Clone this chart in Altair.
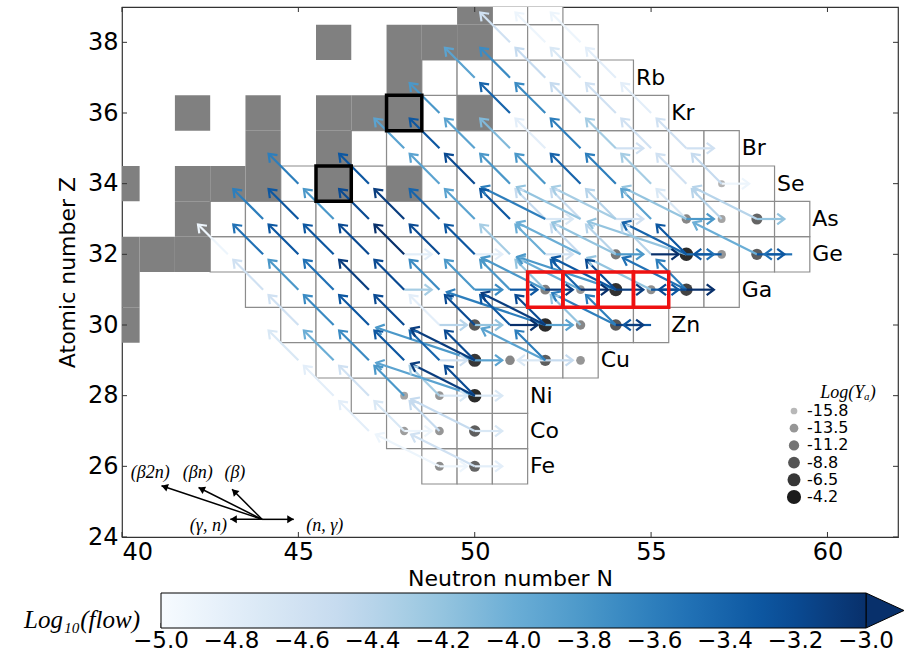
import math
import altair as alt
import pandas as pd

# ---------------- chart values ----------------
# network cells: for each Z the first and last N of the row
grid_Z    = [26, 27, 28, 29, 30, 31, 32, 33, 34, 35, 36, 37, 38, 39]
grid_Nmin = [49, 48, 47, 46, 45, 44, 43, 43, 45, 47, 49, 49, 51, 51]
grid_Nmax = [51, 51, 51, 53, 55, 57, 59, 59, 58, 57, 55, 54, 53, 52]

element_Z    = [26, 27, 28, 29, 30, 31, 32, 33, 34, 35, 36, 37]
element_name = ["Fe", "Co", "Ni", "Cu", "Zn", "Ga", "Ge", "As", "Se", "Br", "Kr", "Rb"]

# stable (grey) cells
stable_N = [50, 46, 48, 49, 50, 48, 42, 44, 46, 47, 48, 50, 44, 46, 40, 42, 43, 44, 46, 48, 42, 40, 41, 42, 40, 40]
stable_Z = [39, 38, 38, 38, 38, 37, 36, 36, 36, 36, 36, 36, 35, 35, 34, 34, 34, 34, 34, 34, 33, 32, 32, 32, 31, 30]

black_N = [46, 48]
black_Z = [34, 36]
red_N = [52, 53, 54, 55]
red_Z = [31, 31, 31, 31]

# abundances Log(Y_A)
yield_N    = [49, 50, 48, 49, 50, 48, 49, 50, 50, 51, 52, 53, 50, 52, 53, 54, 52, 53, 54, 55, 56, 54, 56, 57, 58, 56, 57, 58, 57]
yield_Z    = [26, 26, 27, 27, 27, 28, 28, 28, 29, 29, 29, 29, 30, 30, 30, 30, 31, 31, 31, 31, 31, 32, 32, 32, 32, 33, 33, 33, 34]
yield_logY = [-13.0, -10.0, -14.0, -13.5, -9.5, -14.5, -13.5, -5.5, -6.5, -12.5, -9.5, -13.5, -9.0, -5.5, -12.5, -9.0,
              -12.0, -13.5, -6.0, -13.0, -7.5, -11.5, -5.5, -13.5, -9.5, -12.5, -14.5, -10.0, -15.5]

# beta decays (N,Z) -> (N-1,Z+1): source cells and Log10(flow)
beta_N = [51, 52, 53,
          50, 51, 52, 53, 54,
          49, 51, 52, 53, 54, 55,
          48, 49, 50, 51, 52, 53, 54, 55, 56,
          45, 47, 49, 50, 51, 52, 53, 54, 55, 56, 57,
          44, 45, 46, 47, 48, 49, 50, 51, 52, 53, 54, 55, 56, 57,
          43, 44, 45, 46, 47, 48, 49, 50, 51, 52, 53, 54, 55, 56,
          44, 45, 46, 47, 48, 49, 50, 51, 52, 53, 54, 56,
          45, 46, 47, 48, 49, 50, 51, 52, 53, 54,
          45, 46, 47, 48, 49, 50, 52,
          46, 47, 48, 49, 50,
          47, 48, 49]
beta_Z = [38, 38, 38,
          37, 37, 37, 37, 37,
          36, 36, 36, 36, 36, 36,
          35, 35, 35, 35, 35, 35, 35, 35, 35,
          34, 34, 34, 34, 34, 34, 34, 34, 34, 34, 34,
          33, 33, 33, 33, 33, 33, 33, 33, 33, 33, 33, 33, 33, 33,
          32, 32, 32, 32, 32, 32, 32, 32, 32, 32, 32, 32, 32, 32,
          31, 31, 31, 31, 31, 31, 31, 31, 31, 31, 31, 31,
          30, 30, 30, 30, 30, 30, 30, 30, 30, 30,
          29, 29, 29, 29, 29, 29, 29,
          28, 28, 28, 28, 28,
          27, 27, 27]
beta_flow = [-4.6, -4.9, -4.9,
             -3.9, -3.7, -4.5, -4.7, -4.8,
             -3.8, -3.4, -3.7, -4.5, -4.6, -4.8,
             -3.9, -3.3, -3.9, -4.1, -4.8, -3.6, -4.3, -4.6, -4.6,
             -3.6, -3.3, -3.9, -3.2, -3.8, -3.8, -3.4, -3.6, -4.3, -4.6, -4.5,
             -3.6, -3.3, -3.8, -3.2, -3.1, -3.4, -3.9, -3.3, -4.5, -4.5, -4.4, -3.9, -4.7, -4.4,
             -4.9, -3.5, -3.3, -3.3, -3.2, -3.0, -3.2, -3.3, -4.3, -4.0, -4.5, -4.4, -4.4, -3.3,
             -4.6, -3.8, -3.5, -3.1, -3.2, -3.7, -3.8, -3.8, -4.2, -3.4, -3.2, -3.6,
             -4.6, -3.7, -3.3, -3.2, -4.8, -3.2, -3.3, -3.2, -4.2, -3.6,
             -4.7, -4.0, -3.7, -3.3, -3.4, -3.2, -3.6,
             -4.8, -4.6, -3.8, -4.3, -3.2,
             -4.8, -4.7, -4.5]

# beta-delayed neutron emission (N,Z) -> (N-k, Z+1), k = 2 (beta n) or 3 (beta 2n)
bxn_N = [50, 49, 50, 50, 50, 50, 50, 52, 52, 52, 54, 54, 54, 52, 53, 55, 56, 53, 54, 56, 56, 58, 52, 53, 54, 56, 58]
bxn_Z = [26, 26, 27, 28, 28, 29, 29, 29, 30, 30, 30, 31, 31, 31, 31, 31, 31, 32, 32, 32, 32, 32, 33, 33, 33, 33, 33]
bxn_k = [2, 2, 2, 2, 3, 2, 3, 2, 2, 3, 2, 2, 3, 2, 2, 2, 2, 2, 2, 2, 3, 2, 2, 2, 2, 2, 2]
bxn_flow = [-4.6, -4.9, -4.5, -3.1, -3.9, -3.1, -3.8, -3.9, -3.1, -3.6, -3.6, -3.3, -3.8, -3.8, -4.0, -4.2, -3.5,
            -4.0, -4.2, -3.4, -4.2, -4.0, -3.6, -4.2, -4.3, -4.2, -4.4]

# (n,gamma): (N,Z) -> (N+1,Z)
ng_N = [49, 50, 48, 50, 49, 50, 49, 50, 52, 49, 50, 51, 52, 54, 48, 50, 51, 52, 53, 54, 55, 56,
        48, 50, 52, 54, 55, 56, 58, 52, 54, 56, 58, 57, 54, 56]
ng_Z = [26, 26, 27, 27, 28, 28, 29, 29, 29, 30, 30, 30, 30, 30, 31, 31, 31, 31, 31, 31, 31, 31,
        32, 32, 32, 32, 32, 32, 32, 33, 33, 33, 33, 34, 35, 35]
ng_flow = [-4.9, -4.8, -4.9, -4.7, -4.7, -4.7, -4.6, -3.9, -4.5, -4.4, -4.2, -3.0, -3.9, -3.1,
           -4.3, -3.7, -3.3, -3.1, -3.0, -3.1, -3.3, -3.0, -4.8, -4.8, -4.6, -3.8, -3.0, -3.5, -3.3,
           -4.7, -4.6, -3.8, -4.2, -4.9, -4.6, -4.6]

# (gamma,n): (N,Z) -> (N-1,Z)
gn_N = [52, 55, 56, 57, 59]
gn_Z = [29, 30, 31, 32, 32]
gn_flow = [-4.7, -3.3, -3.2, -3.3, -3.5]

# reaction key (bottom left)
key_label = ["(n, γ)", "(γ, n)", "(β)", "(βn)", "(β2n)"]
key_dN = [1, -1, -1, -2, -3]
key_dZ = [0, 0, 1, 1, 1]

x_ticks = [40, 45, 50, 55, 60]
y_ticks = [24, 26, 28, 30, 32, 34, 36, 38]
size_legend_values = [-15.8, -13.5, -11.2, -8.8, -6.5, -4.2]
flow_ticks = [-5.0, -4.8, -4.6, -4.4, -4.2, -4.0, -3.8, -3.6, -3.4, -3.2, -3.0]

blues = ["#f7fbff", "#deebf7", "#c6dbef", "#9ecae1", "#6baed6", "#4292c6", "#2171b5", "#08519c", "#08306b"]

# ---------------- layout ----------------
W, H = 776, 530
N_LO, N_HI, Z_LO, Z_HI = 40, 62, 24, 39
px_N = W / (N_HI - N_LO)
px_Z = H / (Z_HI - Z_LO)
SHRINK = 0.22
TICK = 5.0  # tick length in px (inward)
KEY_ORIGIN = (43.97, 24.5)
KEY_LEN = [0.9, 0.9, 0.85, 0.9, 0.95]
KEY_LABEL_POS = [(45.75, 24.3), (42.45, 24.3), (43.2, 25.8), (42.15, 25.8), (40.8, 25.8)]
CBAR_X0, CBAR_X1, CBAR_Y0, CBAR_H = 39, 744, 586, 35


def arrow_rows(srcN, srcZ, dN, dZ, flows, shrink):
    rows = []
    for n, z, a, b, f in zip(srcN, srcZ, dN, dZ, flows):
        L = math.hypot(a, b)
        rows.append({
            "N": n, "Z": z,
            "N2": n + a - shrink * a / L,
            "Z2": z + b - shrink * b / L,
            "flow": f,
            "angle": math.degrees(math.atan2(-b * px_Z, a * px_N)) % 360,
        })
    return rows


arrows = (arrow_rows(beta_N, beta_Z, [-1] * len(beta_N), [1] * len(beta_N), beta_flow, SHRINK)
          + arrow_rows(bxn_N, bxn_Z, [-k for k in bxn_k], [1] * len(bxn_N), bxn_flow, SHRINK)
          + arrow_rows(ng_N, ng_Z, [1] * len(ng_N), [0] * len(ng_N), ng_flow, SHRINK)
          + arrow_rows(gn_N, gn_Z, [-1] * len(gn_N), [0] * len(gn_N), gn_flow, SHRINK))
arrows_df = pd.DataFrame(arrows).sort_values("flow").reset_index(drop=True)

grid_rows = []
for z, lo, hi in zip(grid_Z, grid_Nmin, grid_Nmax):
    for n in range(lo, hi + 1):
        grid_rows.append({"x0": n - 0.5, "x1": n + 0.5, "y0": z - 0.5, "y1": z + 0.5})
grid_df = pd.DataFrame(grid_rows)

stable_df = pd.DataFrame({"x0": [n - 0.5 for n in stable_N], "x1": [n + 0.5 for n in stable_N],
                          "y0": [z - 0.5 for z in stable_Z], "y1": [z + 0.5 for z in stable_Z]})

box_df = pd.DataFrame({
    "x0": [n - 0.5 for n in black_N + red_N], "x1": [n + 0.5 for n in black_N + red_N],
    "y0": [z - 0.5 for z in black_Z + red_Z], "y1": [z + 0.5 for z in black_Z + red_Z],
    "col": ["black"] * len(black_N) + ["#ee1111"] * len(red_N),
})

yield_df = pd.DataFrame({"N": yield_N, "Z": yield_Z, "logY": yield_logY})

nmax_by_z = dict(zip(grid_Z, grid_Nmax))
elem_df = pd.DataFrame({"lx": [nmax_by_z[z] + 0.57 for z in element_Z], "Z": element_Z, "name": element_name})

key_rows = []
for lab, a, b, f, (lx, ly) in zip(key_label, key_dN, key_dZ, KEY_LEN, KEY_LABEL_POS):
    key_rows.append({
        "N": KEY_ORIGIN[0], "Z": KEY_ORIGIN[1],
        "N2": KEY_ORIGIN[0] + f * a, "Z2": KEY_ORIGIN[1] + f * b,
        "angle": math.degrees(math.atan2(-b * px_Z, a * px_N)) % 360,
        "label": lab, "lx": lx, "ly": ly,
    })
key_df = pd.DataFrame(key_rows)

tN = TICK / px_N
tZ = TICK / px_Z
tick_df = pd.DataFrame(
    [{"a": v, "a2": v, "b": Z_LO, "b2": Z_LO + tZ} for v in x_ticks]
    + [{"a": v, "a2": v, "b": Z_HI, "b2": Z_HI - tZ} for v in x_ticks]
    + [{"a": N_LO, "a2": N_LO + tN, "b": v, "b2": v} for v in y_ticks]
    + [{"a": N_HI, "a2": N_HI - tN, "b": v, "b2": v} for v in y_ticks]
)

# ---------------- scales / axes ----------------
xs = alt.Scale(domain=[N_LO, N_HI], nice=False, zero=False)
ys = alt.Scale(domain=[Z_LO, Z_HI], nice=False, zero=False)
x_axis = alt.Axis(values=x_ticks, format="d", title="Neutron number N",
                  labelPadding=3, titlePadding=4)
y_axis = alt.Axis(values=y_ticks, format="d", title="Atomic number Z",
                  labelPadding=4, titlePadding=8)


def X(f):
    return alt.X(f, type="quantitative", scale=xs, axis=x_axis)


def Y(f):
    return alt.Y(f, type="quantitative", scale=ys, axis=y_axis)


flow_domain = [-5.0 + 0.25 * i for i in range(9)]
flow_scale = alt.Scale(domain=flow_domain, range=blues, clamp=True)
flow_legend = alt.Legend(
    orient="none", legendX=CBAR_X0, legendY=CBAR_Y0, direction="horizontal", title=None,
    gradientLength=CBAR_X1 - CBAR_X0, gradientThickness=CBAR_H,
    gradientStrokeColor="black", gradientStrokeWidth=1,
    labelOpacity=0, labelFontSize=1, padding=0,
)

y_dom = [-15.8, -4.2]
yield_legend = alt.Legend(
    type="symbol", orient="none", legendX=664, legendY=396, direction="vertical", title=None,
    values=size_legend_values, labelExpr="'' + datum.value",
    labelFont="DejaVu Sans", labelFontSize=16, labelColor="black", labelOffset=5,
    symbolType="circle", symbolStrokeWidth=0, rowPadding=1.2, padding=0,
)

# ---------------- layers ----------------
grid = alt.Chart(grid_df).mark_rect(fill="white", stroke="#8c8c8c", strokeWidth=1.2, clip=True).encode(
    x=X("x0"), x2="x1", y=Y("y0"), y2="y1")

stable = alt.Chart(stable_df).mark_rect(fill="#808080", strokeWidth=0, clip=True).encode(
    x=X("x0"), x2="x1", y=Y("y0"), y2="y1")

dots = alt.Chart(yield_df).mark_circle(opacity=1).encode(
    x=X("N"), y=Y("Z"),
    fill=alt.Fill("logY:Q", scale=alt.Scale(domain=y_dom, range=["#b8b8b8", "#1c1c1c"]), legend=yield_legend),
    size=alt.Size("logY:Q", scale=alt.Scale(domain=y_dom, range=[45, 200]), legend=yield_legend),
)

shafts = alt.Chart(arrows_df).mark_rule(strokeWidth=2.2).encode(
    x=X("N"), y=Y("Z"), x2="N2", y2="Z2",
    color=alt.Color("flow:Q", scale=flow_scale, legend=flow_legend),
)

heads = alt.Chart(arrows_df).mark_point(
    shape="M-1.2,-0.9L0,0L-1.2,0.9", size=144, strokeWidth=2.2, filled=False, opacity=1
).encode(
    x=X("N2"), y=Y("Z2"), angle=alt.Angle("angle:Q", scale=None),
    color=alt.Color("flow:Q", scale=flow_scale, legend=flow_legend),
)

boxes = alt.Chart(box_df).mark_rect(fillOpacity=0, strokeWidth=3.5).encode(
    x=X("x0"), x2="x1", y=Y("y0"), y2="y1", stroke=alt.Stroke("col:N", scale=None))

frame_ticks = alt.Chart(tick_df).mark_rule(color="#333333", strokeWidth=1).encode(
    x=X("a"), x2="a2", y=Y("b"), y2="b2")

elements = alt.Chart(elem_df).mark_text(
    align="left", baseline="middle", font="DejaVu Sans", fontSize=22, color="black"
).encode(x=X("lx"), y=Y("Z"), text="name:N")

key_shafts = alt.Chart(key_df).mark_rule(strokeWidth=1.5, color="black").encode(
    x=X("N"), y=Y("Z"), x2="N2", y2="Z2")
key_heads = alt.Chart(key_df).mark_point(
    shape="M-1.3,-0.8L0,0L-1.3,0.8Z", size=100, strokeWidth=1.2, filled=True, color="black", opacity=1
).encode(x=X("N2"), y=Y("Z2"), angle=alt.Angle("angle:Q", scale=None))
key_text = alt.Chart(key_df).mark_text(
    font="Liberation Serif", fontStyle="italic", fontSize=18, color="black", align="center", baseline="middle"
).encode(x=X("lx"), y=Y("ly"), text="label:N")

one = pd.DataFrame({"v": [0]})
cbar_tip = alt.Chart(one).mark_point(
    shape="M0,-1L2.17,0L0,1Z", filled=True, fill="#08306b", stroke="black", strokeWidth=1,
    size=CBAR_H * CBAR_H, opacity=1
).encode(x=alt.value(CBAR_X1), y=alt.value(CBAR_Y0 + CBAR_H / 2))
cbar_title = alt.Chart(one).mark_text(
    text="Log₁₀(flow)", font="Liberation Serif", fontStyle="italic", fontSize=25, color="black",
    align="center", baseline="middle"
).encode(x=alt.value(-40), y=alt.value(613))
yield_title = alt.Chart(one).mark_text(
    text="Log(Yₐ)", font="Liberation Serif", fontStyle="italic", fontSize=18, color="black",
    align="center", baseline="middle"
).encode(x=alt.value(726), y=alt.value(386))

main = alt.layer(
    grid, stable, dots, shafts, heads, boxes, frame_ticks, elements,
    key_shafts, key_heads, key_text, cbar_tip, cbar_title, yield_title
)

# colour-bar tick labels and tick marks on their own scale
cb_scale = alt.Scale(domain=[flow_ticks[0], flow_ticks[-1]], range=[CBAR_X0, CBAR_X1], nice=False, zero=False)
cb_df = pd.DataFrame({"tick": flow_ticks})
cb_labels = alt.Chart(cb_df).mark_text(
    font="DejaVu Sans", fontSize=23, color="black", align="center", baseline="top"
).encode(
    x=alt.X("tick:Q", scale=cb_scale, axis=None),
    y=alt.value(CBAR_Y0 + CBAR_H + 2),
    text=alt.Text("tick:Q", format=".1f"),
)
cb_ticks = alt.Chart(cb_df).mark_rule(color="#333333", strokeWidth=1).encode(
    x=alt.X("tick:Q", scale=cb_scale, axis=None),
    y=alt.value(CBAR_Y0 + CBAR_H),
    y2=alt.value(CBAR_Y0 + CBAR_H - 5),
)
colorbar = alt.layer(cb_labels, cb_ticks)

chart = alt.layer(main, colorbar).resolve_scale(x="independent").properties(
    width=W, height=H,
    autosize=alt.AutoSizeParams(type="none"),
    padding={"left": 122, "top": 7, "right": 14, "bottom": 119},
    background="white",
).configure_view(
    stroke="#333333", strokeWidth=1.2
).configure_axis(
    labelFont="DejaVu Sans", labelFontSize=24, labelColor="black",
    titleFont="DejaVu Sans", titleFontSize=22, titleFontWeight="normal", titleColor="black",
    domain=False, ticks=False, tickSize=0, grid=False,
)

chart.save("out.html", embed_options={"renderer": "svg", "actions": False})
